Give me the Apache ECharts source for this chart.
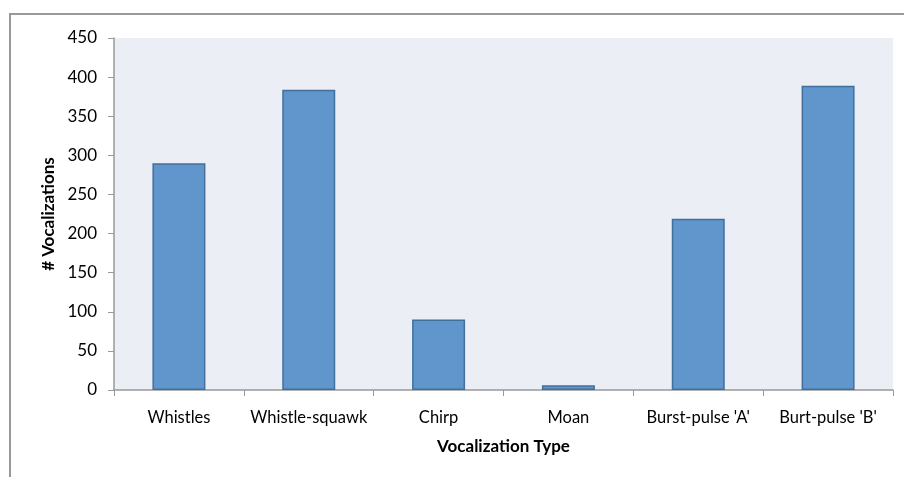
<!DOCTYPE html>
<html><head><meta charset="utf-8">
<script src="https://cdn.jsdelivr.net/npm/echarts@6/dist/echarts.min.js"></script>
<style>html,body{margin:0;padding:0;background:#fff}#c{width:904px;height:477px}</style>
</head><body><div id="c"></div>
<script>
const categories = ["Whistles", "Whistle-squawk", "Chirp", "Moan", "Burst-pulse 'A'", "Burt-pulse 'B'"];
const counts = [290, 384, 90, 6, 219, 389];
const yTicks = { min: 0, max: 450, interval: 50 };
const xTitle = "Vocalization Type";
const yTitle = "# Vocalizations";

const chart = echarts.init(document.getElementById('c'), null, { renderer: 'canvas' });
const F = 'Lato, "Open Sans", sans-serif';
chart.setOption({
  animation: false,
  graphic: [{
    type: 'rect', z: -10,
    shape: { x: 10, y: 14, width: 1000, height: 600 },
    style: { fill: '#fff', stroke: '#999', lineWidth: 2 }
  }],
  grid: { left: 114, right: 11, top: 38, bottom: 87, show: true, backgroundColor: '#ebeef4', borderWidth: 0 },
  xAxis: {
    type: 'category', data: categories,
    name: xTitle, nameLocation: 'middle', nameGap: 48,
    nameTextStyle: { fontFamily: F, fontWeight: 'bold', fontSize: 17, color: '#000' },
    axisLine: { lineStyle: { color: '#999', width: 1.5 } },
    axisTick: { show: true, length: 6, lineStyle: { color: '#999' } },
    axisLabel: { fontFamily: F, fontSize: 16.5, color: '#000', margin: 19, interval: 0, hideOverlap: false },
    splitLine: { show: false }
  },
  yAxis: {
    type: 'value', min: yTicks.min, max: yTicks.max, interval: yTicks.interval,
    name: yTitle, nameLocation: 'middle', nameGap: 53,
    nameTextStyle: { fontFamily: F, fontWeight: 'bold', fontSize: 17, color: '#000' },
    axisLine: { show: true, lineStyle: { color: '#999', width: 1.5 } },
    axisTick: { show: true, length: 6, lineStyle: { color: '#999' } },
    axisLabel: { fontFamily: F, fontSize: 17, color: '#000', margin: 17 },
    splitLine: { show: false }
  },
  series: [{
    type: 'bar', data: counts, barWidth: 53,
    itemStyle: { color: '#6096cc', borderColor: '#41709f', borderWidth: 1.5 }
  }]
});
</script></body></html>
